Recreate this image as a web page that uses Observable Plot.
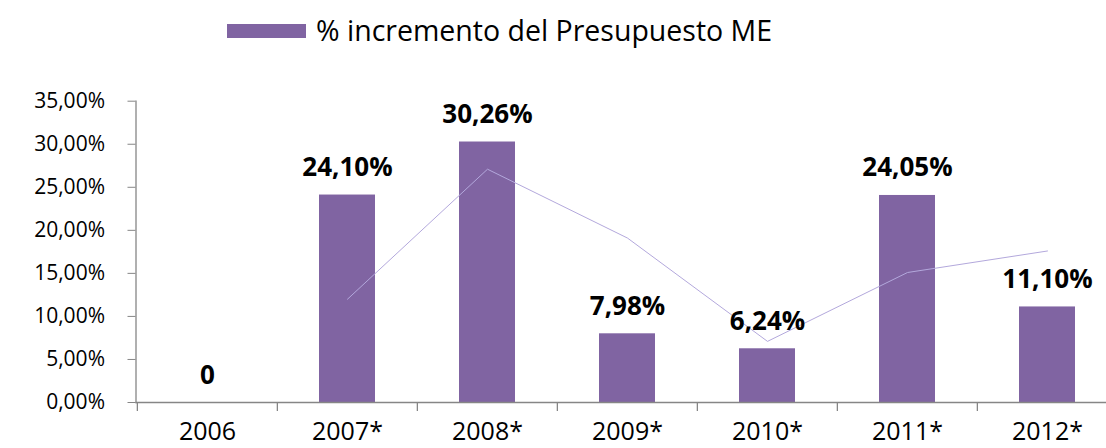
<!DOCTYPE html>
<html><head><meta charset="utf-8">
<script src="https://cdn.jsdelivr.net/npm/d3@7"></script>
<script src="https://cdn.jsdelivr.net/npm/@observablehq/plot@0.6"></script>
<style>
html,body{margin:0;padding:0;background:#fff;}
body{width:1106px;height:448px;overflow:hidden;}
#legend{position:relative;height:60px;font-family:"Open Sans",sans-serif;}
#legend .sw{position:absolute;left:227px;top:24px;width:79px;height:14px;background:#8064a2;}
#legend .lt{position:absolute;left:316px;top:15px;font-size:28.5px;line-height:30px;color:#000;white-space:nowrap;}
#chart svg{display:block;overflow:visible;}
</style></head><body>
<div id="legend"><span class="sw"></span><span class="lt" id="lt"></span></div>
<div id="chart"></div>
<script>
const seriesName = "% incremento del Presupuesto ME";
const years = ["2006", "2007*", "2008*", "2009*", "2010*", "2011*", "2012*"];
const increments = [0, 24.10, 30.26, 7.98, 6.24, 24.05, 11.10];
const trend = [null, 12.0, 27.1, 19.1, 7.1, 15.1, 17.6];
const yTicks = [0, 5, 10, 15, 20, 25, 30, 35];

document.getElementById("lt").textContent = seriesName;

const data = years.map((year, i) => ({year, value: increments[i], trend: trend[i]}));
const x0 = 135.5, x1 = 1117.5;
const step = (x1 - x0) / years.length;
const pct = v => v.toFixed(2).replace(".", ",") + "%";
const fmt = v => v === 0 ? "0" : pct(v);

const plot = Plot.plot({
  width: 1106,
  height: 388,
  marginTop: 40.7,
  marginBottom: 46,
  marginLeft: 135.5,
  marginRight: 0,
  x: {type: "band", domain: years, range: [x0, x1], paddingInner: 0.6, paddingOuter: 0.3, align: 0.5, label: null},
  y: {domain: [0, 35], range: [342, 40.7], label: null},
  style: {background: "white", overflow: "visible"},
  marks: [
    Plot.barY(data, {x: "year", y: "value", fill: "#8064a2"}),
    Plot.line(data.filter(d => d.trend != null), {x: "year", y: "trend", stroke: "#b3a8dc", strokeWidth: 1}),
    Plot.ruleY([0], {stroke: "#868686", strokeWidth: 1.3}),
    Plot.frame({anchor: "left", stroke: "#868686", strokeWidth: 1.3}),
    Plot.ruleX(years, {x: d => d, dx: -step / 2, y1: 0, y2: 0, insetBottom: -9, stroke: "#868686", strokeWidth: 1.3}),
    Plot.axisY({ticks: yTicks, tickFormat: pct, tickSize: 8, tickPadding: 23, label: null, stroke: "#868686", fill: "#000", fontSize: 21, fontFamily: "Open Sans"}),
    Plot.axisX({tickSize: 0, tickPadding: 20, label: null, fill: "#000", fontSize: 25, fontFamily: "Open Sans"}),
    Plot.text(data, {x: "year", y: "value", text: d => fmt(d.value), dy: -19, lineAnchor: "bottom", fill: "#000", fontWeight: "bold", fontSize: 26, fontFamily: "Open Sans"})
  ]
});
document.getElementById("chart").appendChild(plot);
</script>
</body></html>
